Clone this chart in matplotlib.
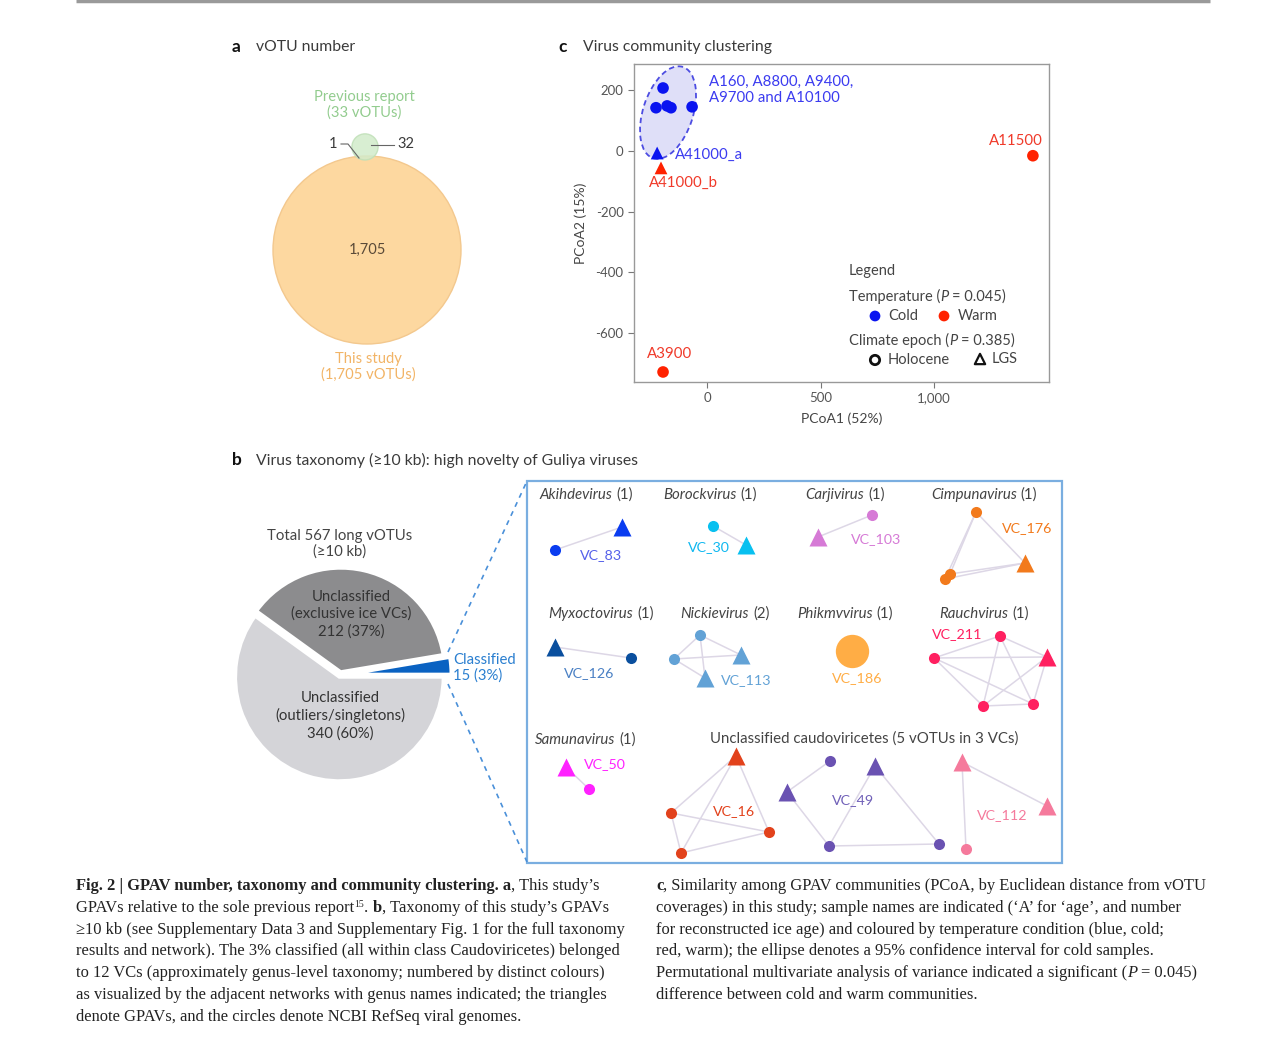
import matplotlib
matplotlib.use('Agg')
import numpy as np
import matplotlib.pyplot as plt
from matplotlib.patches import Circle, Rectangle, Ellipse
from matplotlib.transforms import Affine2D, ScaledTranslation

plt.rcParams['font.family'] = ['Lato', 'DejaVu Sans']

# ---------------- data ----------------
# a: vOTU numbers
votu_previous_total = 33
votu_previous_only = 32
votu_shared = 1
votu_this_study = 1705

# b: taxonomy of long vOTUs (>=10 kb)
taxonomy_names = ['Classified', 'Unclassified\n(exclusive ice VCs)', 'Unclassified\n(outliers/singletons)']
taxonomy_counts = [15, 212, 340]

# b: VC networks (layout positions in the panel, node kind, edges)
vc_83_nodes = [(555, 550, 'o'), (622, 527, '^')]
vc_83_edges = [(0, 1)]
vc_30_nodes = [(713, 526, 'o'), (746, 545, '^')]
vc_30_edges = [(0, 1)]
vc_103_nodes = [(818, 537, '^'), (872, 515, 'o')]
vc_103_edges = [(0, 1)]
vc_176_nodes = [(976, 512, 'o'), (1025, 563, '^'), (945, 579, 'o'), (950, 574, 'o')]
vc_176_edges = [(0, 1), (0, 2), (0, 3), (1, 2), (1, 3)]
vc_126_nodes = [(555, 647, '^'), (631, 658, 'o')]
vc_126_edges = [(0, 1)]
vc_113_nodes = [(700, 635, 'o'), (674, 659, 'o'), (741, 655, '^'), (705, 678, '^')]
vc_113_edges = [(0, 1), (0, 2), (1, 2), (0, 3), (1, 3)]
vc_186_nodes = [(852, 651, 'O')]
vc_186_edges = []
vc_211_nodes = [(1000, 636, 'o'), (934, 658, 'o'), (1047, 657, '^'), (983, 706, 'o'), (1033, 704, 'o')]
vc_211_edges = [(i, j) for i in range(5) for j in range(i + 1, 5)]
vc_50_nodes = [(566, 767, '^'), (589, 789, 'o')]
vc_50_edges = [(0, 1)]
vc_16_nodes = [(736, 756, '^'), (671, 813, 'o'), (769, 832, 'o'), (681, 853, 'o')]
vc_16_edges = [(0, 1), (0, 2), (0, 3), (1, 2), (1, 3), (2, 3)]
vc_49_nodes = [(830, 761, 'o'), (787, 792, '^'), (875, 766, '^'), (829, 846, 'o'), (939, 844, 'o')]
vc_49_edges = [(0, 1), (1, 3), (2, 3), (2, 4), (3, 4)]
vc_112_nodes = [(962, 762, '^'), (1047, 806, '^'), (966, 849, 'o')]
vc_112_edges = [(0, 1), (0, 2)]

genus_titles = ['Akihdevirus', 'Borockvirus', 'Carjivirus', 'Cimpunavirus',
                'Myxoctovirus', 'Nickievirus', 'Phikmvvirus', 'Rauchvirus', 'Samunavirus']
genus_counts = [1, 1, 1, 1, 1, 2, 1, 1, 1]

# c: PCoA of GPAV communities
samples = ['A160', 'A8800', 'A9400', 'A9700', 'A10100', 'A41000_a', 'A41000_b', 'A11500', 'A3900']
pcoa1 = [-194, -225, -176, -159, -66, -220, -203, 1436, -194]
pcoa2 = [207, 142, 148, 142, 145, -7, -56, -16, -728]
temperature = ['Cold', 'Cold', 'Cold', 'Cold', 'Cold', 'Cold', 'Warm', 'Warm', 'Warm']
epoch = ['Holocene', 'Holocene', 'Holocene', 'Holocene', 'Holocene', 'LGS', 'LGS', 'Holocene', 'Holocene']

# ---------------- figure ----------------
W, H = 1280, 1042
fig = plt.figure(figsize=(W / 100, H / 100), dpi=100)
fig.patch.set_facecolor('white')
# transparent overlay in pixel units, drawn above the other axes
ax_bg = fig.add_axes([0, 0, 1, 1])
ax_bg.set_xlim(0, W)
ax_bg.set_ylim(H, 0)
ax_bg.axis('off')
ax_bg.set_zorder(10)

renderer = fig.canvas.get_renderer()
TXT = '#3a3a3a'


def fbox(x0, y0, x1, y1):
    return [x0 / W, 1 - y1 / H, (x1 - x0) / W, (y1 - y0) / H]


def measure(s, props):
    t = ax_bg.text(0, 0, s, **props)
    w = t.get_window_extent(renderer).width
    t.remove()
    return w


def rich_line(x, y, parts, ha='left', **common):
    # parts are placed one after another on a common baseline
    items = []
    for s, kw in parts:
        props = dict(fontsize=11, color=TXT)
        props.update(common)
        props.update(kw)
        rise = props.pop('rise', 0)
        core = s.strip(' ')
        lead = len(s) - len(s.lstrip(' '))
        trail = len(s) - len(s.rstrip(' '))
        sp = measure('x x', props) - measure('xx', props)
        items.append((core, props, rise, lead * sp, measure(core, props), trail * sp))
    total = sum(a + b + c for _, _, _, a, b, c in items)
    cx = x - total / 2 if ha == 'center' else x
    for core, props, rise, a, w, c in items:
        cx += a
        ax_bg.text(cx, y - rise, core, va='baseline', ha='left', **props)
        cx += w + c


def panel_title(x_letter, x_text, y, letter, title):
    ax_bg.text(x_letter, y, letter, fontsize=12.5, fontweight='bold', color='#111111', va='center')
    ax_bg.text(x_text, y, title, fontsize=11.3, color=TXT, va='center')


# top rule
ax_bg.plot([76, 1210], [1, 1], color='#9a9a9a', lw=2.5, solid_capstyle='butt')

# ---------- panel a ----------
panel_title(232, 256, 47, 'a', 'vOTU number')
k_area = 94 / np.sqrt(votu_this_study)
r_big = k_area * np.sqrt(votu_this_study)
r_small = k_area * np.sqrt(votu_previous_total)
ax_bg.add_patch(Circle((367, 250), r_big, facecolor='#fdd8a0', edgecolor='#f3c88e', lw=1))
ax_bg.add_patch(Circle((365, 160 - r_small), r_small, facecolor='#d2ebcb', edgecolor='#c0e0b8',
                       lw=1, alpha=0.85))
ax_bg.text(367, 250, f'{votu_this_study:,}', ha='center', va='center', fontsize=10.5, color='#5a4a38')
ax_bg.text(364, 105, f'Previous report\n({votu_previous_total} vOTUs)', ha='center', va='center',
           fontsize=10.6, color='#92cc8e', linespacing=1.15)
ax_bg.text(368, 367, f'This study\n({votu_this_study:,} vOTUs)', ha='center', va='center',
           fontsize=10.6, color='#f2b466', linespacing=1.15)
ax_bg.text(337, 144, f'{votu_shared}', ha='right', va='center', fontsize=10.5, color=TXT)
ax_bg.plot([341, 348, 359], [144, 144, 158], color='#666666', lw=0.8)
ax_bg.text(397, 144, f'{votu_previous_only}', ha='left', va='center', fontsize=10.5, color=TXT)
ax_bg.plot([371, 394], [145, 145], color='#666666', lw=0.8)

# ---------- panel c ----------
panel_title(558, 583, 47, 'c', 'Virus community clustering')
ax_c = fig.add_axes(fbox(634, 64, 1049, 382))
ax_c.set_xlim(-322, 1507)
ax_c.set_ylim(-761, 286)
col_temp = {'Cold': '#0a14f0', 'Warm': '#ff2200'}
mk_epoch = {'Holocene': 'o', 'LGS': '^'}
for t in ['Cold', 'Warm']:
    for e in ['Holocene', 'LGS']:
        idx = [i for i in range(len(samples)) if temperature[i] == t and epoch[i] == e]
        if idx:
            ax_c.scatter([pcoa1[i] for i in idx], [pcoa2[i] for i in idx], s=70 if e == 'Holocene' else 85,
                         marker=mk_epoch[e], color=col_temp[t], edgecolor='none', zorder=3)
ell_tr = Affine2D() + ScaledTranslation(-172, 126, ax_c.transData)
ax_c.add_patch(Ellipse((0, 0), 50, 96, angle=-18, transform=ell_tr, facecolor='#dcdcf8',
                       edgecolor='#3b3bdf', ls=(0, (3, 2)), lw=1.3, alpha=0.9, zorder=1))
lab_blue = '#3b3bf0'
lab_red = '#f03a2a'
ax_c.text(7, 249, 'A160, A8800, A9400,\nA9700 and A10100', color=lab_blue, fontsize=10.8,
          va='top', ha='left', linespacing=1.15)
ax_c.text(-140, -12, samples[5], color=lab_blue, fontsize=10.8, va='center')
ax_c.text(-255, -107, samples[6], color=lab_red, fontsize=10.8, va='center')
ax_c.text(1362, 32, samples[7], color=lab_red, fontsize=10.8, va='center', ha='center')
ax_c.text(-165, -668, samples[8], color=lab_red, fontsize=10.8, va='center', ha='center')
ax_c.set_xticks([0, 500, 1000])
ax_c.set_xticklabels(['0', '500', '1,000'])
ax_c.set_yticks([-600, -400, -200, 0, 200])
ax_c.set_yticklabels(['-600', '-400', '-200', '0', '200'])
ax_c.tick_params(labelsize=9.5, labelcolor='#555555', color='#777777', length=4, width=0.8)
for sp in ax_c.spines.values():
    sp.set_color('#999999')
    sp.set_linewidth(1)
ax_c.set_xlabel('PCoA1 (52%)', fontsize=10, color='#444444', labelpad=6)
ax_c.set_ylabel('PCoA2 (15%)', fontsize=10, color='#444444', labelpad=6)

# legend of panel c
LEG = '#444444'
ax_bg.text(849, 271, 'Legend', fontsize=10.5, color=LEG, va='center')
rich_line(849, 301, [('Temperature (', {}), ('P', dict(style='italic')), (' = 0.045)', {})],
          fontsize=10.5, color=LEG)
ax_bg.scatter([875], [316], s=60, color=col_temp['Cold'], edgecolor='none')
ax_bg.text(888, 316, 'Cold', fontsize=10.5, color=LEG, va='center')
ax_bg.scatter([944], [316], s=60, color=col_temp['Warm'], edgecolor='none')
ax_bg.text(958, 316, 'Warm', fontsize=10.5, color=LEG, va='center')
rich_line(849, 345, [('Climate epoch (', {}), ('P', dict(style='italic')), (' = 0.385)', {})],
          fontsize=10.5, color=LEG)
ax_bg.scatter([875], [360], s=45, marker='o', facecolor='none', edgecolor='#111111', linewidths=2)
ax_bg.text(888, 360, 'Holocene', fontsize=10.5, color=LEG, va='center')
ax_bg.scatter([980], [359], s=55, marker='^', facecolor='none', edgecolor='#111111', linewidths=1.6)
ax_bg.text(992, 359, 'LGS', fontsize=10.5, color=LEG, va='center')

# ---------- panel b ----------
panel_title(232, 256, 460, 'b', 'Virus taxonomy (\u226510 kb): high novelty of Guliya viruses')
total = sum(taxonomy_counts)
ax_bg.text(340, 544, f'Total {total} long vOTUs\n(\u226510 kb)', ha='center', va='center',
           fontsize=10.7, color='#444444', linespacing=1.15)
ax_b = fig.add_axes(fbox(236, 571, 444, 779))
ax_b.pie(taxonomy_counts, colors=['#0a62c2', '#8c8c8e', '#d4d4d8'], startangle=0, counterclock=True,
         explode=[0.07, 0.03, 0.02], radius=1.0,
         wedgeprops=dict(edgecolor='white', linewidth=2.5))
ax_b.set_xlim(-1.0, 1.0)
ax_b.set_ylim(-1.0, 1.0)
ax_b.set_aspect('equal')
ax_b.axis('off')
pcts = [round(100 * c / total) for c in taxonomy_counts]
ax_bg.text(351, 614, f'{taxonomy_names[1]}\n{taxonomy_counts[1]} ({pcts[1]}%)', ha='center', va='center',
           fontsize=10.7, color='#333333', linespacing=1.27)
ax_bg.text(340, 716, f'{taxonomy_names[2]}\n{taxonomy_counts[2]} ({pcts[2]}%)', ha='center', va='center',
           fontsize=10.7, color='#333333', linespacing=1.27)
ax_bg.text(453, 668, f'{taxonomy_names[0]}\n{taxonomy_counts[0]} ({pcts[0]}%)', ha='left', va='center',
           fontsize=10.7, color='#2a7fd0', linespacing=1.15)
ax_bg.plot([448, 527], [652, 481], color='#4a90d9', lw=1.2, ls=(0, (3, 3)))
ax_bg.plot([448, 527], [684, 862], color='#4a90d9', lw=1.2, ls=(0, (3, 3)))
ax_bg.add_patch(Rectangle((527, 481), 535, 382, facecolor='none', edgecolor='#7aaee0', lw=1.6))

title_pos = [(586, 499), (710, 499), (845, 499), (984, 499),
             (601, 618), (725, 618), (845, 618), (984, 618), (585, 744)]
for name, n, (tx, ty) in zip(genus_titles, genus_counts, title_pos):
    rich_line(tx, ty, [(name, dict(style='italic')), (f' ({n})', {})], ha='center', fontsize=10.8,
              color='#444444')
ax_bg.text(864, 739, 'Unclassified caudoviricetes (5 vOTUs in 3 VCs)', ha='center', va='center',
           fontsize=10.8, color='#444444')

networks = [
    ('VC_83', vc_83_nodes, vc_83_edges, '#0a3cf0', '#5560ea', (601, 555)),
    ('VC_30', vc_30_nodes, vc_30_edges, '#08c0f0', '#10b8f0', (709, 547)),
    ('VC_103', vc_103_nodes, vc_103_edges, '#d67ad6', '#d67ad6', (876, 539)),
    ('VC_176', vc_176_nodes, vc_176_edges, '#f27a1c', '#f27a1c', (1027, 528)),
    ('VC_126', vc_126_nodes, vc_126_edges, '#0a4f9e', '#4a80c4', (589, 673)),
    ('VC_113', vc_113_nodes, vc_113_edges, '#62a2d6', '#62a2d6', (746, 680)),
    ('VC_186', vc_186_nodes, vc_186_edges, '#ffad45', '#ffad45', (857, 678)),
    ('VC_211', vc_211_nodes, vc_211_edges, '#ff2060', '#ff2060', (957, 634)),
    ('VC_50', vc_50_nodes, vc_50_edges, '#ff22ff', '#ff22ff', (605, 764)),
    ('VC_16', vc_16_nodes, vc_16_edges, '#e2421c', '#e2421c', (734, 811)),
    ('VC_49', vc_49_nodes, vc_49_edges, '#6a52b2', '#7060b8', (853, 800)),
    ('VC_112', vc_112_nodes, vc_112_edges, '#f57a9c', '#f57a9c', (1002, 815)),
]
for vc, nodes, edges, col, lcol, (lx, ly) in networks:
    for i, j in edges:
        ax_bg.plot([nodes[i][0], nodes[j][0]], [nodes[i][1], nodes[j][1]], color='#ddd7e6', lw=1.1,
                   zorder=2)
    for x, y, kind in nodes:
        if kind == '^':
            ax_bg.plot(x, y, marker='^', ms=13, color=col, mec='none', zorder=3)
        elif kind == 'O':
            ax_bg.plot(x, y, marker='o', ms=24, color=col, mec='none', zorder=3)
        else:
            ax_bg.plot(x, y, marker='o', ms=8, color=col, mec='none', zorder=3)
    ax_bg.text(lx, ly, vc, ha='center', va='center', fontsize=10.3, color=lcol, zorder=4)

# ---------- caption ----------
cap_font = dict(family=['Liberation Serif', 'DejaVu Serif'], fontsize=11.9, color='#222222')
B = dict(fontweight='bold')
left_lines = [
    [('Fig. 2 | GPAV number, taxonomy and community clustering. a', B), (', This study\u2019s', {})],
    [('GPAVs relative to the sole previous report', {}), ('15', dict(fontsize=7, rise=5)), ('. ', {}),
     ('b', B), (', Taxonomy of this study\u2019s GPAVs', {})],
    [('\u226510 kb (see Supplementary Data 3 and Supplementary Fig. 1 for the full taxonomy', {})],
    [('results and network). The 3% classified (all within class Caudoviricetes) belonged', {})],
    [('to 12 VCs (approximately genus-level taxonomy; numbered by distinct colours)', {})],
    [('as visualized by the adjacent networks with genus names indicated; the triangles', {})],
    [('denote GPAVs, and the circles denote NCBI RefSeq viral genomes.', {})],
]
right_lines = [
    [('c', B), (', Similarity among GPAV communities (PCoA, by Euclidean distance from vOTU', {})],
    [('coverages) in this study; sample names are indicated (\u2018A\u2019 for \u2018age\u2019, and number', {})],
    [('for reconstructed ice age) and coloured by temperature condition (blue, cold;', {})],
    [('red, warm); the ellipse denotes a 95% confidence interval for cold samples.', {})],
    [('Permutational multivariate analysis of variance indicated a significant (', {}),
     ('P', dict(style='italic')), (' = 0.045)', {})],
    [('difference between cold and warm communities.', {})],
]
for i, parts in enumerate(left_lines):
    rich_line(76, 890 + i * 21.8, parts, **cap_font)
for i, parts in enumerate(right_lines):
    rich_line(656, 890 + i * 21.8, parts, fontsize=11.85, family=cap_font['family'], color='#222222')

fig.savefig('out.png', dpi=100, facecolor='white')
